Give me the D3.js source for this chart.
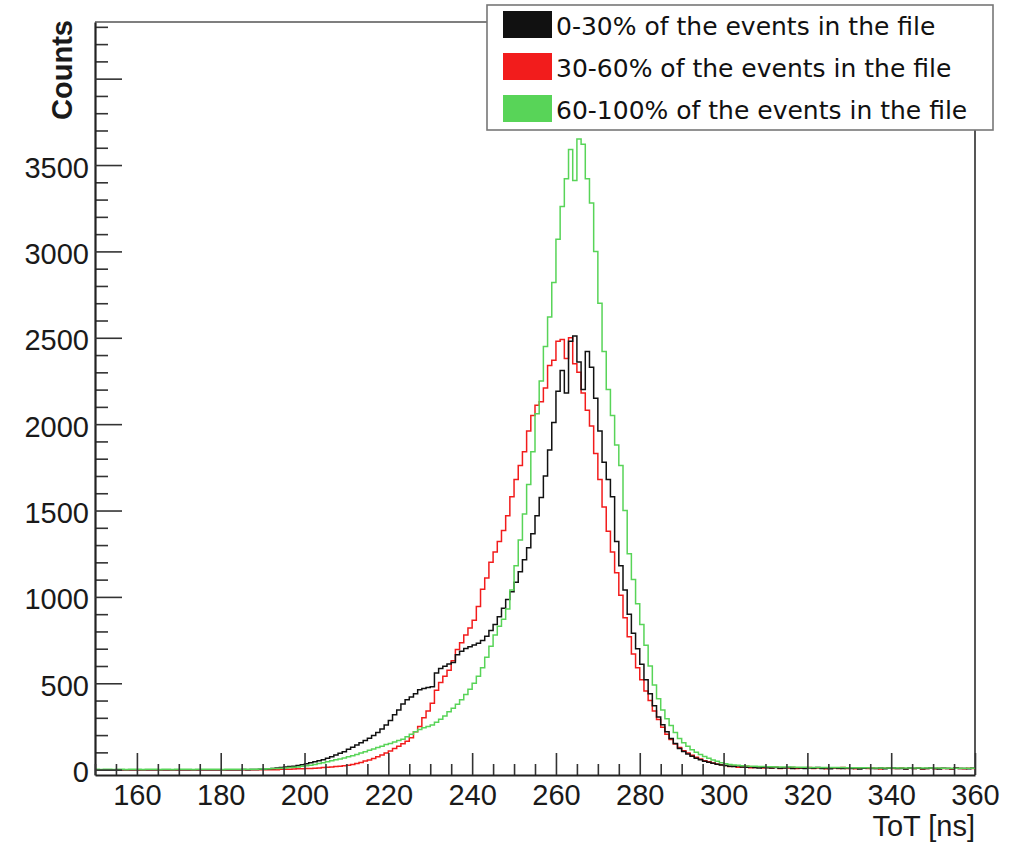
<!DOCTYPE html>
<html>
<head>
<meta charset="utf-8">
<script src="https://cdn.jsdelivr.net/npm/d3@7"></script>
<style>
  html, body { margin: 0; padding: 0; background: #fff; }
  svg { display: block; }
</style>
</head>
<body>
<svg id="chart" width="1013" height="842"></svg>
<script>
// Time-over-threshold spectra, 1 ns bins starting at 150 ns
const binStart = 150;
const binWidth = 1;

const seriesNames = [
  "0-30% of the events in the file",
  "30-60% of the events in the file",
  "60-100% of the events in the file"
];

// counts per bin, rows of ten bins: 150, 160, ... 350 ns
const counts0to30 = [
  0,0,0,0,0,0,0,0,0,0,
  0,0,0,0,0,0,0,0,0,0,
  0,0,0,0,0,0,0,0,0,0,
  0,0,0,0,0,1,0,1,1,2,
  3,5,7,10,13,15,18,20,24,28,
  34,40,45,52,58,66,74,85,95,104,
  118,130,142,155,168,182,198,215,235,258,
  285,318,345,380,405,420,440,462,470,476,
  480,560,585,598,612,620,665,685,702,712,
  722,732,748,772,805,840,885,935,985,1030,
  1085,1145,1215,1285,1365,1470,1575,1700,1850,2010,
  2190,2310,2180,2480,2510,2360,2200,2420,2330,2150,
  1960,1780,1680,1580,1320,1180,1040,900,790,700,
  610,520,440,370,305,260,220,180,152,122,
  105,90,77,66,57,49,43,37,31,27,
  24,20,18,22,15,14,17,12,10,14,
  11,9,13,8,10,12,7,11,9,6,
  10,8,12,7,9,5,11,8,6,10,
  7,9,4,8,11,6,7,9,5,8,
  10,6,7,4,9,6,8,5,7,10,
  6,4,8,7,5,9,6,7,5,8
];

const counts30to60 = [
  0,0,0,0,0,0,0,0,0,0,
  0,0,0,0,0,0,0,0,0,0,
  0,0,0,0,0,0,0,0,0,0,
  0,0,0,0,0,0,0,0,0,0,
  0,0,0,0,2,3,3,4,5,5,
  6,7,8,10,12,14,16,18,20,23,
  26,30,36,42,50,56,65,75,85,96,
  108,122,135,150,165,185,220,250,300,340,
  385,460,505,540,575,630,695,735,780,820,
  865,945,1045,1110,1200,1260,1320,1385,1470,1580,
  1680,1760,1840,1960,2050,2110,2130,2210,2340,2370,
  2480,2490,2380,2500,2350,2300,2180,2080,1990,1830,
  1680,1520,1380,1260,1140,1010,880,770,670,590,
  520,455,400,340,290,245,205,175,148,128,
  110,96,83,72,62,52,45,38,33,28,
  24,18,21,14,16,19,11,13,15,9,
  12,10,14,7,11,9,12,6,10,8,
  13,7,9,11,5,8,10,6,12,7,
  9,5,8,10,6,9,7,4,8,11,
  6,7,9,5,8,6,10,4,7,9,
  5,8,6,7,4,9,6,5,8,6
];

const counts60to100 = [
  2,1,2,3,1,2,2,1,3,2,
  2,1,2,2,3,1,2,2,1,2,
  2,3,2,1,2,2,2,3,2,2,
  1,2,3,2,2,3,2,3,3,4,
  4,5,6,7,8,10,12,14,16,19,
  22,26,30,35,40,46,52,57,62,68,
  74,80,88,96,104,112,120,128,136,145,
  152,160,168,176,190,205,220,232,242,250,
  258,275,292,310,335,355,378,405,435,465,
  500,540,590,650,715,780,830,870,930,1040,
  1180,1330,1480,1650,1840,2060,2250,2450,2620,2820,
  3070,3260,3420,3590,3410,3650,3620,3420,3280,3000,
  2700,2420,2200,2050,1880,1760,1500,1250,1100,960,
  840,720,600,490,410,345,295,255,215,180,
  155,135,115,100,88,76,66,56,48,40,
  34,30,27,25,23,21,20,19,18,18,
  17,17,16,16,15,15,15,14,14,14,
  13,13,13,13,12,12,12,12,12,11,
  11,11,11,11,11,10,10,10,10,10,
  10,10,10,9,9,9,9,9,9,9,
  9,9,8,8,8,8,8,8,8,8
];

const xTickValues = [160, 180, 200, 220, 240, 260, 280, 300, 320, 340, 360];
const yTickValues = [0, 500, 1000, 1500, 2000, 2500, 3000, 3500];
const yMajorTicks = [0, 500, 1000, 1500, 2000, 2500, 3000, 3500, 4000];
const xRange = [150, 360];
const yRange = [-31, 4328];

const seriesColors = ["#111111", "#f21c1c", "#58d458"];

// ---------------------------------------------------------------
const svg = d3.select("#chart");
const frame = { left: 95, right: 975, top: 22, bottom: 775 };

const x = d3.scaleLinear().domain(xRange).range([frame.left, frame.right]);
const y = d3.scaleLinear().domain(yRange).range([frame.bottom, frame.top]);

const tickFont = "'Liberation Sans', Arial, sans-serif";

svg.append("defs").append("clipPath").attr("id", "plotClip")
  .append("rect")
  .attr("x", frame.left).attr("y", frame.top)
  .attr("width", frame.right - frame.left)
  .attr("height", frame.bottom - frame.top);

// top and right frame lines
svg.append("line")
  .attr("x1", frame.left).attr("x2", frame.right)
  .attr("y1", frame.top).attr("y2", frame.top)
  .attr("stroke", "#555").attr("stroke-width", 1.6);
svg.append("line")
  .attr("x1", frame.right).attr("x2", frame.right)
  .attr("y1", frame.top).attr("y2", frame.bottom)
  .attr("stroke", "#444").attr("stroke-width", 1.8);

// histograms as step outlines
const histPoints = values => values.flatMap((v, i) => [
  [binStart + i * binWidth, v],
  [binStart + (i + 1) * binWidth, v]
]);
const stepLine = d3.line().x(d => x(d[0])).y(d => y(d[1]));

const histLayer = svg.append("g").attr("clip-path", "url(#plotClip)");
const allSeries = [counts0to30, counts30to60, counts60to100];
[1, 0, 2].forEach(k => {
  histLayer.append("path")
    .datum(histPoints(allSeries[k]))
    .attr("d", stepLine)
    .attr("fill", "none")
    .attr("stroke", seriesColors[k])
    .attr("stroke-width", 1.5)
    .attr("stroke-linejoin", "miter");
});

// y axis: ticks point inward
const yMinor = d3.range(0, 4301, 100).filter(v => v % 500 !== 0);
const yMinorAxis = d3.axisLeft(y).tickValues(yMinor).tickSize(-13).tickFormat("");
const yMajorAxis = d3.axisLeft(y).tickValues(yMajorTicks).tickSizeInner(-27).tickSizeOuter(0)
  .tickPadding(6)
  .tickFormat(d => yTickValues.includes(d) ? String(d) : "");

const gyMinor = svg.append("g").attr("transform", `translate(${frame.left},0)`).call(yMinorAxis);
gyMinor.select(".domain").remove();
const gy = svg.append("g").attr("transform", `translate(${frame.left},0)`).call(yMajorAxis);
gy.select(".domain").attr("stroke", "#222").attr("stroke-width", 2.2);
svg.selectAll("g.tick line").attr("stroke", "#333").attr("stroke-width", 1.6);
gy.selectAll("text")
  .attr("dy", 12)
  .attr("font-family", tickFont).attr("font-size", 29).attr("fill", "#1a1a1a");

// x axis
const xMinor = d3.range(150, 361, 5).filter(v => v % 20 !== 0);
const xMinorAxis = d3.axisBottom(x).tickValues(xMinor).tickSize(-11).tickFormat("");
const xMajorAxis = d3.axisBottom(x).tickValues(xTickValues).tickSizeInner(-22).tickSizeOuter(0)
  .tickPadding(9).tickFormat(d => String(d));

const gxMinor = svg.append("g").attr("transform", `translate(0,${frame.bottom})`).call(xMinorAxis);
gxMinor.select(".domain").remove();
const gx = svg.append("g").attr("transform", `translate(0,${frame.bottom})`).call(xMajorAxis);
gx.select(".domain").attr("stroke", "#222").attr("stroke-width", 2.2);
svg.selectAll("g.tick line").attr("stroke", "#333").attr("stroke-width", 1.6);
gx.selectAll("text")
  .attr("font-family", tickFont).attr("font-size", 29).attr("fill", "#1a1a1a");

// axis titles
svg.append("text")
  .attr("transform", `translate(72,20) rotate(-90)`)
  .attr("text-anchor", "end")
  .attr("font-family", tickFont).attr("font-weight", "bold").attr("font-size", 29)
  .attr("fill", "#1a1a1a")
  .text("Counts");
svg.append("text")
  .attr("x", frame.right).attr("y", 836)
  .attr("text-anchor", "end")
  .attr("font-family", tickFont).attr("font-size", 29)
  .attr("fill", "#1a1a1a")
  .text("ToT [ns]");

// legend
const legend = svg.append("g");
legend.append("rect")
  .attr("x", 487).attr("y", 5).attr("width", 506).attr("height", 125)
  .attr("fill", "#fff").attr("stroke", "#777").attr("stroke-width", 1.6);
seriesNames.forEach((name, i) => {
  legend.append("rect")
    .attr("x", 503).attr("y", 11 + i * 42)
    .attr("width", 49).attr("height", 27)
    .attr("fill", seriesColors[i]);
  legend.append("text")
    .attr("x", 556).attr("y", 35 + i * 42)
    .attr("font-family", "'DejaVu Sans', sans-serif").attr("font-size", 25)
    .attr("fill", "#111")
    .text(name);
});
</script>
</body>
</html>
